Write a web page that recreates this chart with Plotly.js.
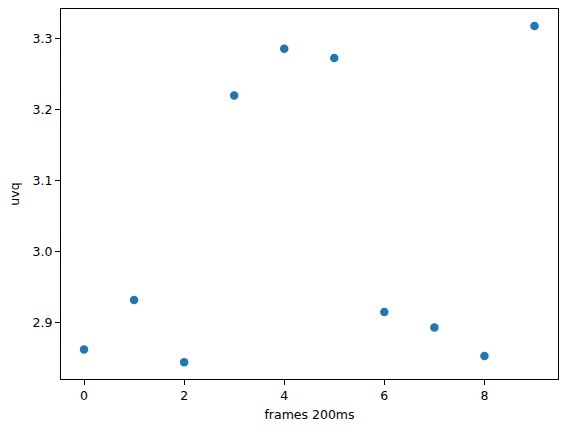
<!DOCTYPE html>
<html>
<head>
<meta charset="utf-8">
<script src="https://cdn.plot.ly/plotly-3.0.1.min.js"></script>
<style>
  html, body { margin: 0; padding: 0; background: #fff; }
  #chart { width: 567px; height: 432px; }
</style>
</head>
<body>
<div id="chart"></div>
<script>
// frame index and uvq values
const frames = [0, 1, 2, 3, 4, 5, 6, 7, 8, 9];
const uvq = [2.862, 2.932, 2.844, 3.220, 3.286, 3.273, 2.915, 2.893, 2.853, 3.318];

const xTicks = [0, 2, 4, 6, 8];
const yTicks = [2.9, 3.0, 3.1, 3.2, 3.3];

const FONT = 'DejaVu Sans, sans-serif';

const axisStyle = {
  showline: true,
  mirror: true,
  linecolor: '#000',
  linewidth: 1,
  showgrid: false,
  zeroline: false,
  ticks: 'outside',
  ticklen: 5,
  tickwidth: 1,
  tickcolor: '#000',
  tickfont: { family: FONT, size: 12.5, color: '#000' }
};

Plotly.newPlot('chart', [{
  x: frames,
  y: uvq,
  type: 'scatter',
  mode: 'markers',
  marker: { color: '#1f77b4', size: 8.5 },
  hoverinfo: 'none'
}], {
  width: 567,
  height: 432,
  margin: { l: 61, r: 9, t: 9, b: 53 },
  paper_bgcolor: '#fff',
  plot_bgcolor: '#fff',
  showlegend: false,
  xaxis: Object.assign({}, axisStyle, {
    range: [-0.46, 9.47],
    tickvals: xTicks,
    ticktext: xTicks.map(String),
    title: { text: 'frames 200ms', font: { family: FONT, size: 12.5, color: '#000' }, standoff: 8 }
  }),
  yaxis: Object.assign({}, axisStyle, {
    range: [2.8205, 3.342],
    tickvals: yTicks,
    ticktext: yTicks.map(function (v) { return v.toFixed(1); }),
    title: { text: 'uvq', font: { family: FONT, size: 12.5, color: '#000' }, standoff: 10 }
  })
}, { staticPlot: true });
</script>
</body>
</html>
